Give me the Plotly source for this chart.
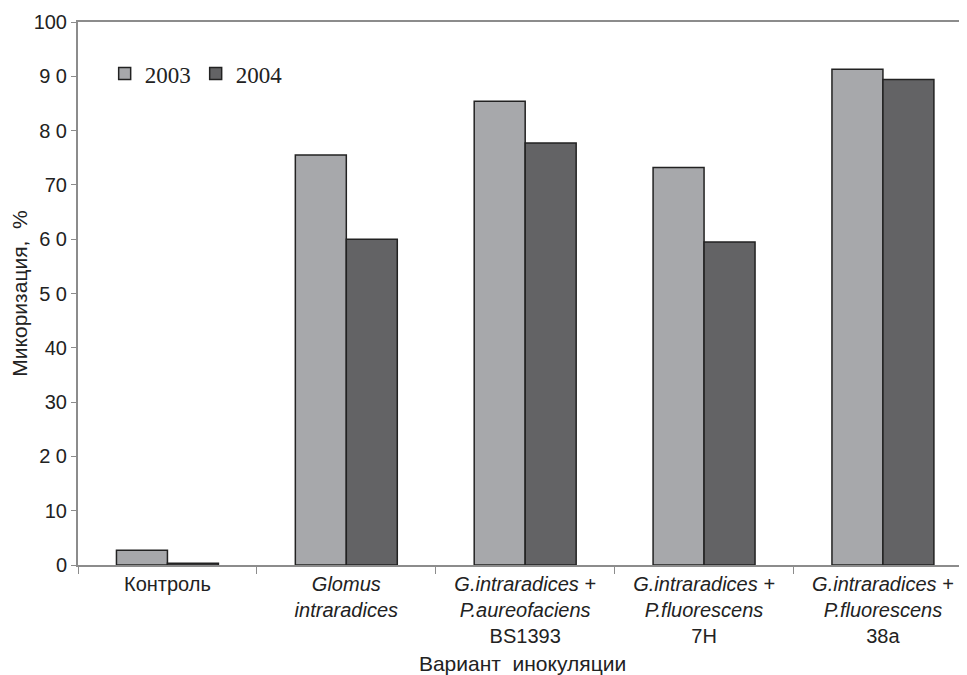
import plotly.graph_objects as go

categories = [
    "Контроль",
    "<i>Glomus</i><br><i>intraradices</i>",
    "<i>G.intraradices +</i><br><i>P.aureofaciens</i><br>BS1393",
    "<i>G.intraradices +</i><br><i>P.fluorescens</i><br>7H",
    "<i>G.intraradices +</i><br><i>P.fluorescens</i><br>38a",
]
series_2003 = [2.7, 75.5, 85.4, 73.2, 91.3]
series_2004 = [0.3, 60.0, 77.7, 59.5, 89.4]
y_ticks = [0, 10, 20, 30, 40, 50, 60, 70, 80, 90, 100]
y_tick_labels = ["0", "10", "2 0", "30", "40", "5 0", "6 0", "70", "8 0", "9 0", "100"]

fig = go.Figure()
fig.add_trace(go.Bar(
    x=categories, y=series_2003, name="2003",
    marker=dict(color="#a7a8ab", line=dict(color="#222222", width=1.5)),
))
fig.add_trace(go.Bar(
    x=categories, y=series_2004, name="2004",
    marker=dict(color="#636365", line=dict(color="#222222", width=1.5)),
))

fig.update_layout(
    width=959, height=667,
    margin=dict(l=70, r=0, t=14, b=110),
    paper_bgcolor="white", plot_bgcolor="white",
    barmode="group", bargap=0.43, bargroupgap=0,
    font=dict(family="Liberation Sans, Arial, sans-serif", size=20, color="#222222"),
    showlegend=True,
    legend=dict(
        x=0.030, y=0.905, xanchor="left", yanchor="middle",
        orientation="h",
        font=dict(family="Liberation Serif, Times New Roman, serif", size=23, color="#222222"),
        bgcolor="rgba(0,0,0,0)", itemwidth=30, tracegroupgap=0,
    ),
)
fig.update_xaxes(
    range=[-0.5, 4.47], automargin=False,
    showline=True, linecolor="#8c8c8c", linewidth=2, mirror=True,
    ticks="outside", tickson="boundaries", ticklen=7, tickcolor="#8c8c8c",
    showgrid=False,
    tickfont=dict(size=20),
    title=dict(text="Вариант  инокуляции", standoff=14, font=dict(size=21)),
)
fig.update_yaxes(
    range=[0, 100], automargin=False,
    tickvals=y_ticks, ticktext=y_tick_labels,
    showline=True, linecolor="#8c8c8c", linewidth=2,
    ticks="outside", ticklen=5, tickcolor="#8c8c8c",
    showgrid=False, zeroline=False,
    tickfont=dict(size=20),
    title=dict(text="Микоризация,  %", standoff=6, font=dict(size=21)),
)

fig.write_html("out.html")
